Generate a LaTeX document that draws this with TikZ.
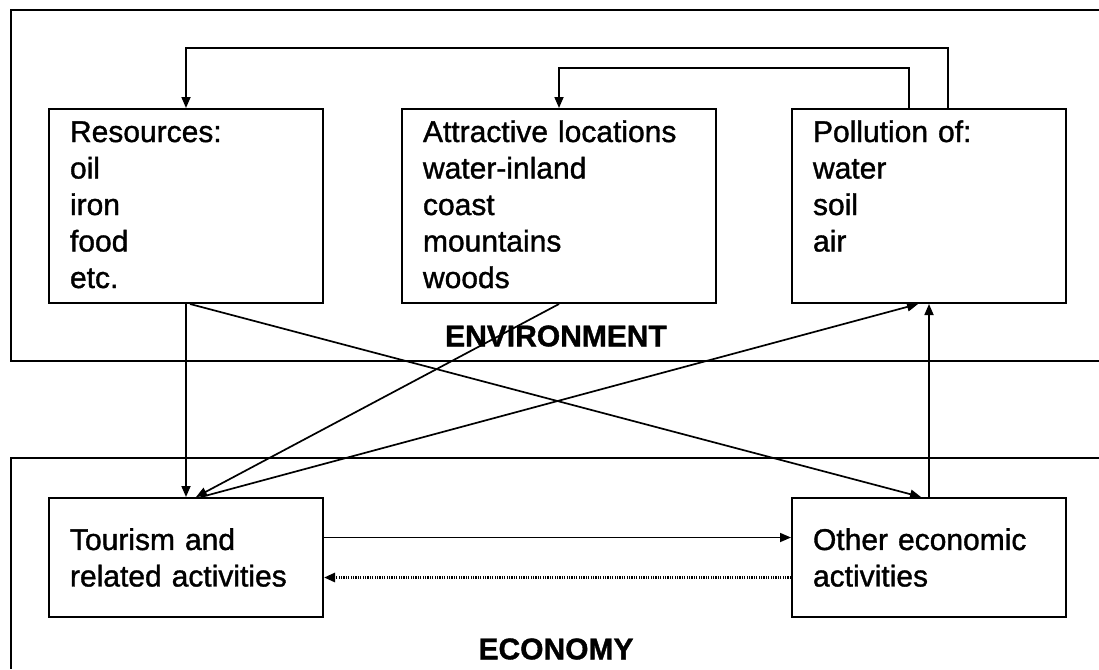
\documentclass[tikz,border=0pt]{standalone}
\usepackage{fontspec}
\setmainfont{Liberation Sans}[FakeBold=1.2]
\usetikzlibrary{arrows.meta}

\tikzset{
  box/.style={draw, line width=2pt, anchor=north west, align=left,
    inner xsep=21pt, font=\fontsize{30}{36.5}\selectfont},
  topbox/.style={box, text height=22pt, text depth=150pt, inner ysep=11pt},
  lowbox/.style={box, minimum height=119pt, inner ysep=0pt},
  conn/.style={line width=1.7pt, -{Triangle[length=11pt,width=9pt]}},
  dotconn/.style={conn, line width=2.6pt, dash pattern=on 1.2pt off 1.2pt},
  frame/.style={line width=2pt},
  title/.style={font=\fontsize{30}{36}\selectfont\bfseries},
}

\begin{document}
\begin{tikzpicture}[x=1pt,y=-1pt]
    \useasboundingbox (0,0) rectangle (1099,669);

    % draw the two frames
    \draw[frame] (1099,10) -- (11,10) -- (11,361) -- (1099,361);
    \draw[frame] (1099,458) -- (11,458) -- (11,669);

    % draw environment boxes
    \node[topbox, text width=232pt] (resources) at (48,108)
        {Resources:\\oil\\iron\\food\\etc.};
    \node[topbox, text width=272pt] (attract) at (401,108)
        {Attractive locations\\water-inland\\coast\\mountains\\woods};
    \node[topbox, text width=232pt] (pollution) at (791,108)
        {Pollution of:\\water\\soil\\air};

    % draw economy boxes
    \node[lowbox, text width=232pt] (tourism) at (48,497)
        {Tourism and\\related activities};
    \node[lowbox, text width=232pt] (other) at (791,497)
        {Other economic\\activities};

    % draw titles
    \node[title] (envtitle) at (556,336) {ENVIRONMENT};
    \node[title] (ecotitle) at (556,649) {ECONOMY};

    % draw feedback loops on top
    \coordinate (loopA) at (948,48);
    \coordinate (loopB) at (909,68);
    \draw[conn] (pollution.north -| loopA) -- (loopA) -| (resources.north);
    \draw[conn] (pollution.north -| loopB) -- (loopB) -| (attract.north);

    % draw links between the frames
    \draw[conn] (resources.south) -- (tourism.north);
    \draw[conn] ([xshift=4pt]resources.south) -- ([xshift=-8pt]other.north);
    \draw[conn] (attract.south) -- ([xshift=10pt]tourism.north);
    \draw[conn] ([xshift=15pt]tourism.north) -- ([xshift=-11pt]pollution.south);
    \draw[conn] (other.north) -- (pollution.south);

    % draw links inside the economy
    \draw[conn] ([yshift=20pt]tourism.east) -- ([yshift=20pt]other.west);
    \draw[dotconn] ([yshift=-20pt]other.west) -- ([yshift=-20pt]tourism.east);

\end{tikzpicture}
\end{document}
